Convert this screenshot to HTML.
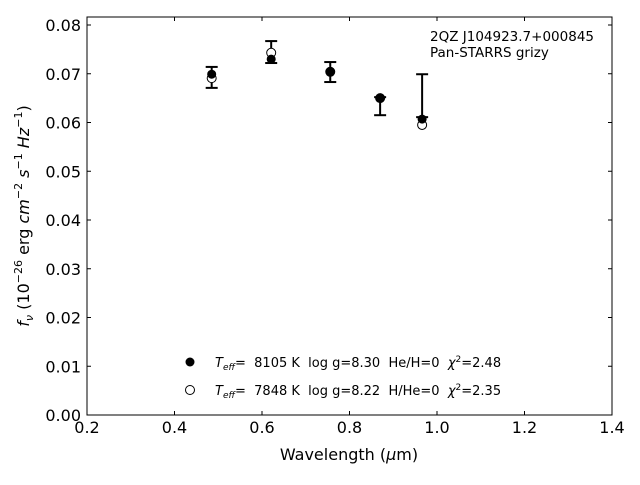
<!DOCTYPE html>
<html><head><meta charset="utf-8"><style>
body{margin:0;background:#fff;}
svg text{font-family:"DejaVu Sans","Liberation Sans",sans-serif;white-space:pre;}
</style></head><body>
<svg id="chart" width="640" height="480" xmlns="http://www.w3.org/2000/svg">
<rect width="640" height="480" fill="#fff"/>
<g id="marks"></g>
<rect x="87" y="17" width="525" height="398" fill="none" stroke="#000" stroke-width="1"/>
<g id="axes"></g>
<text x="349" y="460" font-size="16" text-anchor="middle">Wavelength (<tspan font-style="italic">μ</tspan>m)</text>
<text transform="translate(29,216) rotate(-90)" font-size="16" text-anchor="middle"><tspan font-style="italic">f<tspan font-size="11" dy="4">ν</tspan></tspan><tspan dy="-4"> (10</tspan><tspan font-size="11" dy="-7">−26</tspan><tspan dy="7"> erg </tspan><tspan font-style="italic">cm</tspan><tspan font-size="11" dy="-7">−2</tspan><tspan dy="7" font-style="italic"> s</tspan><tspan font-size="11" dy="-7">−1</tspan><tspan dy="7" font-style="italic"> Hz</tspan><tspan font-size="11" dy="-7">−1</tspan><tspan dy="7">)</tspan></text>
<text x="430" y="41" font-size="13.5">2QZ J104923.7+000845</text>
<text x="430" y="57" font-size="13.5">Pan-STARRS grizy</text>
<g>
<circle cx="190" cy="362" r="4.5" fill="#000"/>
<text x="215" y="367" font-size="13"><tspan font-style="italic">T<tspan font-size="9" dy="3">eff</tspan></tspan><tspan dy="-3">=  8105 K  log g=8.30  He/H=0  </tspan><tspan font-style="italic">χ</tspan><tspan font-size="9" dy="-5">2</tspan><tspan dy="5">=2.48</tspan></text>
<circle cx="190" cy="390" r="4.5" fill="#fff" stroke="#000"/>
<text x="215" y="395" font-size="13"><tspan font-style="italic">T<tspan font-size="9" dy="3">eff</tspan></tspan><tspan dy="-3">=  7848 K  log g=8.22  H/He=0  </tspan><tspan font-style="italic">χ</tspan><tspan font-size="9" dy="-5">2</tspan><tspan dy="5">=2.35</tspan></text>
</g>
</svg>
<script>
const wavelengths=[0.485,0.621,0.756,0.870,0.966];
const obsLow=[0.0671,0.0722,0.0683,0.0615,0.0611];
const obsHigh=[0.0714,0.0767,0.0724,0.0652,0.0699];
const modelFilled=[0.0699,0.0730,0.0704,0.0650,0.0607];
const modelOpen=[0.0691,0.0743,0.0704,0.0650,0.0595];
const xTicks=[0.2,0.4,0.6,0.8,1.0,1.2,1.4];
const yTicks=[0,0.01,0.02,0.03,0.04,0.05,0.06,0.07,0.08];
const NS="http://www.w3.org/2000/svg";
const X=v=>87+(v-0.2)/1.2*525;
const Y=v=>415-v*4875;
function mk(tag,attrs,parent){const e=document.createElementNS(NS,tag);for(const k in attrs)e.setAttribute(k,attrs[k]);parent.appendChild(e);return e;}
const marks=document.getElementById('marks'),axes=document.getElementById('axes');
wavelengths.forEach((w,i)=>{
 const x=X(w);
 const g=mk('g',{},marks);
 
 
 mk('line',{x1:x,x2:x,y1:Y(obsLow[i]),y2:Y(obsHigh[i]),stroke:'#000','stroke-width':2},g);
 mk('line',{x1:x-6,x2:x+6,y1:Y(obsLow[i]),y2:Y(obsLow[i]),stroke:'#000','stroke-width':2},g);
 mk('line',{x1:x-6,x2:x+6,y1:Y(obsHigh[i]),y2:Y(obsHigh[i]),stroke:'#000','stroke-width':2},g);
 const o=mk('circle',{cx:x,cy:Y(modelOpen[i]),r:4.5,fill:'#fff',stroke:'#000'},marks);
 
 
 const f=mk('circle',{cx:x,cy:Y(modelFilled[i]),r:4.5,fill:'#000'},marks);
 
 
});
xTicks.forEach(t=>{
 const x=X(t);
 mk('line',{x1:x,x2:x,y1:415,y2:411,stroke:'#000'},axes);
 mk('line',{x1:x,x2:x,y1:17,y2:21,stroke:'#000'},axes);
 const tx=mk('text',{x:x,y:433,'font-size':16,'text-anchor':'middle'},axes);
 tx.textContent=t.toFixed(1);
 
 
});
yTicks.forEach(t=>{
 const y=Y(t);
 mk('line',{x1:87,x2:91,y1:y,y2:y,stroke:'#000'},axes);
 mk('line',{x1:612,x2:608,y1:y,y2:y,stroke:'#000'},axes);
 const tx=mk('text',{x:81,y:y+6,'font-size':16,'text-anchor':'end'},axes);
 tx.textContent=t.toFixed(2);
 
 
});
</script>
</body></html>
